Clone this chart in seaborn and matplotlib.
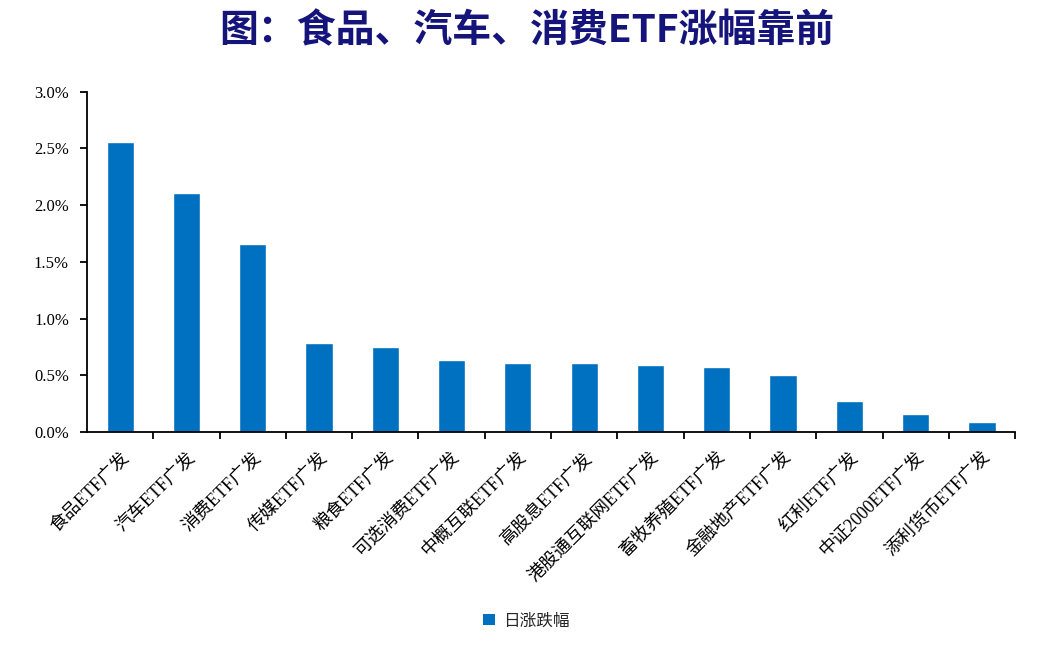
import matplotlib
matplotlib.use("Agg")
import matplotlib.pyplot as plt
import seaborn as sns
import pandas as pd
from matplotlib.ticker import PercentFormatter, MultipleLocator
from matplotlib.patches import Patch

names = ["食品ETF广发", "汽车ETF广发", "消费ETF广发", "传媒ETF广发", "粮食ETF广发",
         "可选消费ETF广发", "中概互联ETF广发", "高股息ETF广发", "港股通互联网ETF广发",
         "畜牧养殖ETF广发", "金融地产ETF广发", "红利ETF广发", "中证2000ETF广发",
         "添利货币ETF广发"]
daily_change = [2.56, 2.11, 1.66, 0.79, 0.75, 0.64, 0.61, 0.61, 0.59,
                0.575, 0.50, 0.275, 0.16, 0.09]

sns.set_theme(style="white")
plt.rcParams["font.family"] = ["Liberation Serif", "Noto Sans CJK SC"]

df = pd.DataFrame({"name": names, "chg": daily_change})

fig = plt.figure(figsize=(10.53, 6.46), dpi=100)
ax = fig.add_axes([0.0826, 0.331, 0.8814, 0.527])
sns.barplot(data=df, x="name", y="chg", color="#0070C0", saturation=1,
            width=0.41, ax=ax)

ax.set_xlim(-0.5, len(names) - 0.5)
ax.set_ylim(0, 3.0)
ax.yaxis.set_major_locator(MultipleLocator(0.5))
ax.yaxis.set_major_formatter(PercentFormatter(decimals=1))
ax.set_xlabel("")
ax.set_ylabel("")

for s in ["top", "right"]:
    ax.spines[s].set_visible(False)
for s in ["left", "bottom"]:
    ax.spines[s].set_color("black")
    ax.spines[s].set_linewidth(1.3)

ax.tick_params(axis="y", which="major", left=True, length=5, width=1.3,
               direction="out", labelsize=12, pad=8, colors="black")
# x ticks sit between bars
ax.set_xticks([i + 0.5 for i in range(len(names))], minor=True)
ax.tick_params(axis="x", which="minor", bottom=True, length=5, width=1.3,
               direction="out", color="black")
ax.tick_params(axis="x", which="major", bottom=False, labelsize=13, pad=6)
for lab in ax.get_xticklabels():
    lab.set_rotation(45)
    lab.set_ha("right")
    lab.set_rotation_mode("anchor")
    lab.set_color("black")

fig.suptitle("图：食品、汽车、消费ETF涨幅靠前", x=0.5, y=0.953, va="center",
             fontsize=28, fontweight="bold", color="#14147A",
             family=["Noto Sans CJK SC", "DejaVu Sans"])

handle = Patch(facecolor="#0070C0", edgecolor="none")
fig.legend([handle], ["日涨跌幅"], loc="center", bbox_to_anchor=(0.5, 0.039),
           frameon=False, handlelength=0.7, handleheight=0.7, handletextpad=0.5,
           prop={"family": ["Noto Sans CJK SC", "DejaVu Sans"], "size": 12})

fig.savefig("out.png", dpi=100)
